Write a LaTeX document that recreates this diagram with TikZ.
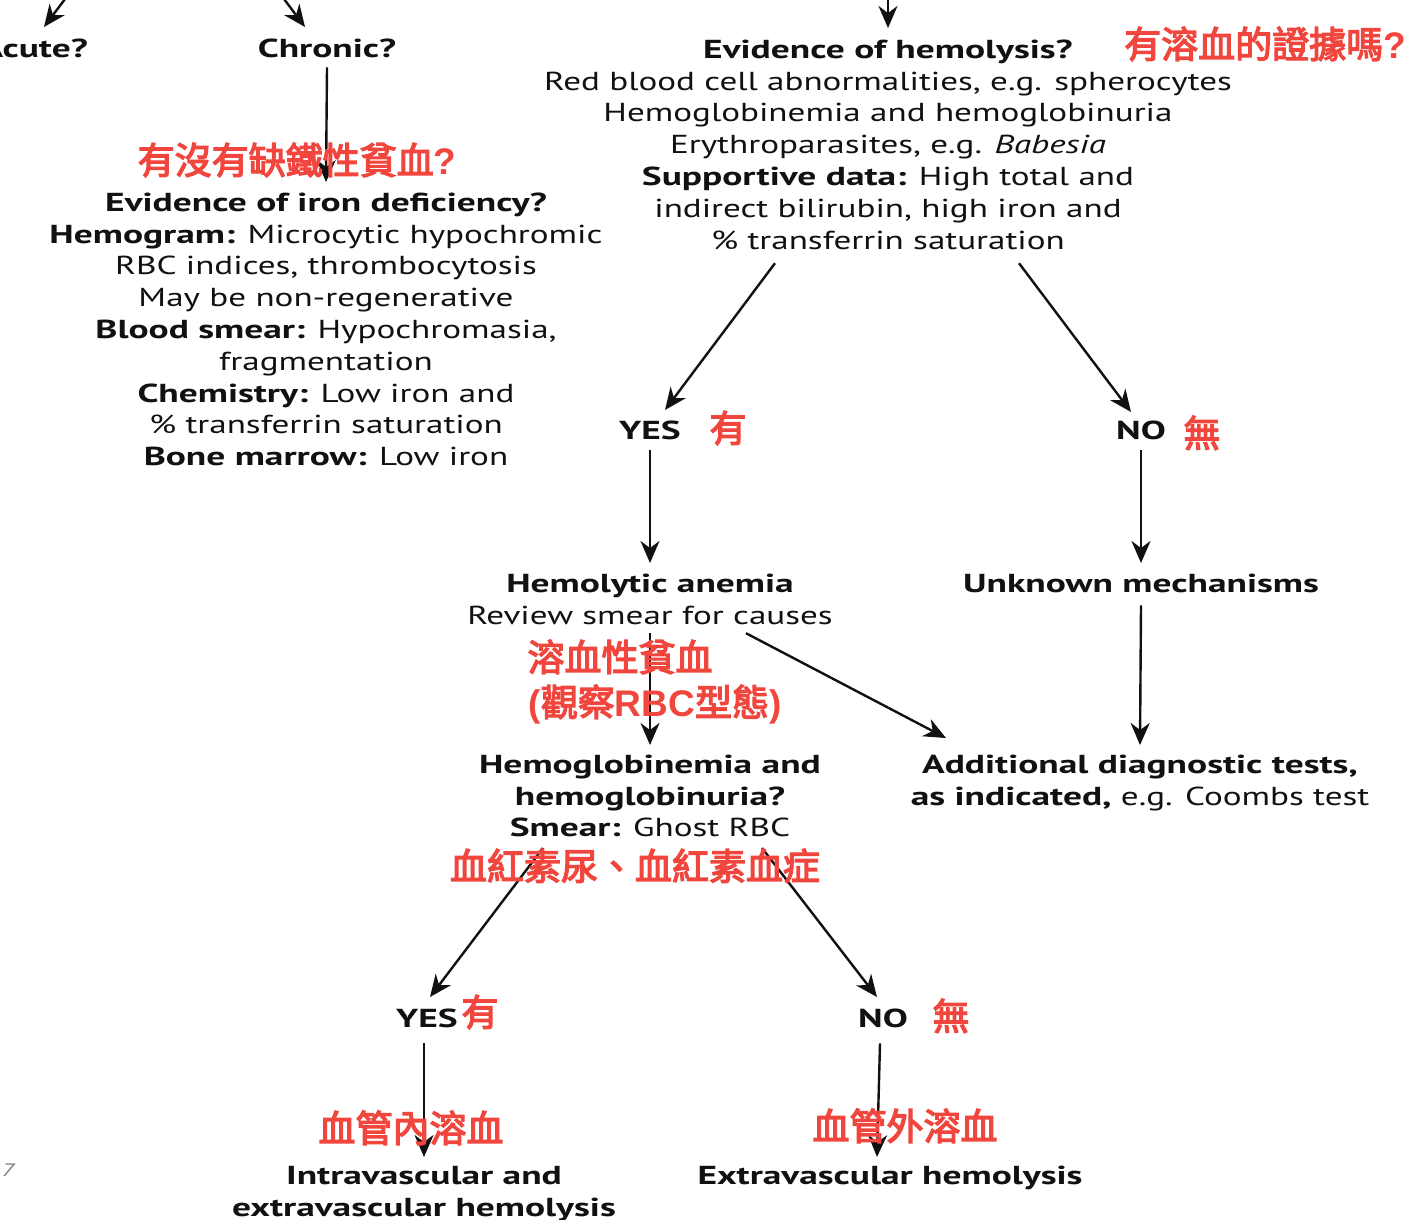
\documentclass[tikz,border=0pt]{standalone}
\usepackage{fontspec}
\setmainfont{PT Sans}[FakeStretch=1.35, BoldFeatures={FakeStretch=1.44}, BoldItalicFeatures={FakeStretch=1.44}]
\newfontfamily\cjk{Noto Sans CJK TC}[FakeBold=3.5]
\newfontfamily\redlat{Liberation Sans}
\usetikzlibrary{arrows.meta}
\definecolor{annot}{RGB}{241,70,62}
\definecolor{ink}{RGB}{17,17,17}
% first-line and last-line struts fix the node box to the text baselines
\newcommand\topst{\rule{0pt}{22pt}}
\newcommand\botst{\rule[-9pt]{0pt}{9pt}}
\newcommand\blk{\fontsize{26}{31.8}\selectfont}
\newcommand\redf{\cjk\fontsize{37}{40}\selectfont}
% Latin characters inside the red notes
\newcommand\rl[1]{{\redlat\bfseries #1}}
\tikzset{
  arr/.style={-{Stealth[length=22pt,width=19pt,inset=7pt]}, line width=2.4pt, draw=ink},
  txt/.style={inner sep=0pt, align=center, font=\blk, text=ink, anchor=north},
  note/.style={inner sep=0pt, anchor=base, font=\redf, text=annot},
}
\begin{document}
\begin{tikzpicture}[x=1pt,y=-1pt]
\fill[white] (0,0) rectangle (1408,1219);
\useasboundingbox (0,0) rectangle (1408,1219);

% question nodes
\node[txt, anchor=north east] (acute) at (88,35) {\topst\textbf{Acute?}\botst};
\node[txt] (chronic) at (327,35) {\topst\textbf{Chronic?}\botst};
\node[txt] (hemol) at (888,36) {\topst\textbf{Evidence of hemolysis?}\\
  Red blood cell abnormalities, e.g. spherocytes\\
  Hemoglobinemia and hemoglobinuria\\
  Erythroparasites, e.g. \textit{Babesia}\\
  \textbf{Supportive data:} High total and\\
  indirect bilirubin, high iron and\\
  \% transferrin saturation\botst};
\node[txt] (iron) at (326,189) {\topst\textbf{Evidence of iron deficiency?}\\
  \textbf{Hemogram:} Microcytic hypochromic\\
  RBC indices, thrombocytosis\\
  May be non-regenerative\\
  \textbf{Blood smear:} Hypochromasia,\\
  fragmentation\\
  \textbf{Chemistry:} Low iron and\\
  \% transferrin saturation\\
  \textbf{Bone marrow:} Low iron\botst};
\node[txt] (yes1) at (650,417) {\topst\textbf{YES}\botst};
\node[txt] (no1) at (1141,417) {\topst\textbf{NO}\botst};
\node[txt] (hemolytic) at (650,570) {\topst\textbf{Hemolytic anemia}\\
  Review smear for causes\botst};
\node[txt] (unknown) at (1141,570) {\topst\textbf{Unknown mechanisms}\botst};
\node[txt] (hgb) at (650,751) {\topst\textbf{Hemoglobinemia and}\\
  \textbf{hemoglobinuria?}\\
  \textbf{Smear:} Ghost RBC\botst};
\node[txt] (addl) at (1140,751) {\topst\textbf{Additional diagnostic tests,}\\
  \textbf{as indicated,} e.g. Coombs test\botst};
\node[txt] (yes2) at (427,1005) {\topst\textbf{YES}\botst};
\node[txt] (no2) at (883,1005) {\topst\textbf{NO}\botst};
\node[txt] (intra) at (424,1162) {\topst\textbf{Intravascular and}\\
  \textbf{extravascular hemolysis}\botst};
\node[txt] (extra) at (890,1162) {\topst\textbf{Extravascular hemolysis}\botst};
\node[inner sep=0pt, font=\fontsize{18}{18}\selectfont\itshape, text=gray] (pg) at (8,1170) {7};

% incoming arrows from above the frame
\coordinate (inA) at (74,-13);
\coordinate (inC) at (275,-13);
\coordinate (inH) at (888,-15);
\draw[arr] (inA) -- ([xshift=-44pt,yshift=8pt]acute.north east);
\draw[arr] (inC) -- ([xshift=-22pt,yshift=8pt]chronic.north);
\draw[arr] (inH) -- ([yshift=8pt]hemol.north);

% connectors
\draw[arr] ([yshift=-1pt]chronic.south) -- ([yshift=7pt]iron.north);
\draw[arr] ([xshift=-113pt,yshift=-5pt]hemol.south) -- ([xshift=15pt,yshift=7pt]yes1.north);
\draw[arr] ([xshift=131pt,yshift=-5pt]hemol.south) -- ([xshift=-10pt,yshift=5pt]no1.north);
\draw[arr] ([yshift=-2pt]yes1.south) -- ([yshift=7pt]hemolytic.north);
\draw[arr] ([yshift=-2pt]no1.south) -- ([yshift=7pt]unknown.north);
\draw[arr] (hemolytic.south) -- ([yshift=6pt]hgb.north);
\draw[arr] ([xshift=96pt]hemolytic.south) -- ([xshift=-194pt,yshift=13pt]addl.north);
\draw[arr] ([yshift=-4pt]unknown.south) -- ([yshift=6pt]addl.north);
\draw[arr] ([xshift=-107pt,yshift=-2pt]hgb.south) -- ([xshift=3pt,yshift=8pt]yes2.north);
\draw[arr] ([xshift=112pt,yshift=-2pt]hgb.south) -- ([xshift=-6pt,yshift=8pt]no2.north);
\draw[arr] ([xshift=-3pt,yshift=-7pt]yes2.south) -- ([yshift=5pt]intra.north);
\draw[arr] ([xshift=-3pt,yshift=-7pt]no2.south) -- ([xshift=-13pt,yshift=5pt]extra.north);

% annotations
\node[note] (n1) at (1265,58) {有溶血的證據嗎\rl{?}};
\node[note] (n2) at (297,174) {有沒有缺鐵性貧血\rl{?}};
\node[note] (n3) at (728,442) {有};
\node[note] (n4) at (1202,447) {無};
\node[note] (n5) at (620,671) {溶血性貧血};
\node[note] (n6) at (655,716) {\rl{(}觀察\rl{RBC}型態\rl{)}};
\node[note] (n7) at (635,880) {血紅素尿、血紅素血症};
\node[note] (n8) at (480,1026) {有};
\node[note] (n9) at (951,1030) {無};
\node[note] (n10) at (411,1142) {血管內溶血};
\node[note] (n11) at (905,1140) {血管外溶血};
\end{tikzpicture}
\end{document}
